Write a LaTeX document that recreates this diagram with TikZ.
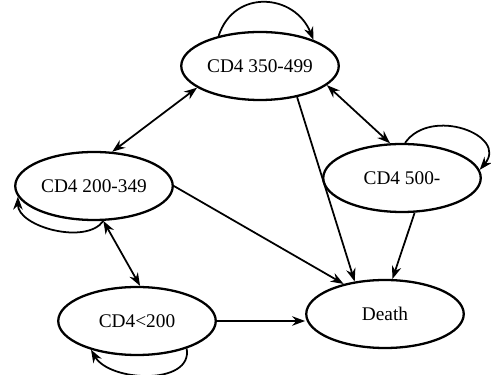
\documentclass[tikz,border=0pt]{standalone}
\usepackage{fontspec}
\setmainfont{Liberation Serif}
\usetikzlibrary{positioning,arrows.meta,shapes.geometric}

\begin{document}
\begin{tikzpicture}[
  font=\fontsize{11}{13}\selectfont,
  st/.style={ellipse, draw=black, line width=1.3pt, minimum width=3.15cm,
             minimum height=1.36cm, inner sep=0pt, fill=white},
  arr/.style={-{Stealth[length=2.6mm,width=1.9mm]}, line width=1pt},
  both/.style={{Stealth[length=2.6mm,width=1.9mm]}-{Stealth[length=2.6mm,width=1.9mm]}, line width=1pt}
]
\useasboundingbox (0,0) rectangle (9.82,7.48);

\node[st] (c350) at (5.20, 6.16) {CD4 350-499};
\node[st] (c200) at (1.88, 3.76) {CD4 200-349};
\node[st] (c500) at (8.04, 3.92) {CD4 500-};
\node[st] (low)  at (2.74, 1.06) {CD4<200};
\node[st] (dth)  at (7.70, 1.20) {Death};

% transitions between states
\draw[both] (c200.62)  -- (c350.199);
\draw[both] (c350.344) -- (c500.109);
\draw[both] (c200.285) -- (low.85);

% to death
\draw[arr] (c350.320) -- (dth.133);
\draw[arr] (c500.290) -- (dth.78);
\draw[arr] (c200.0)   -- (dth.144);
\draw[arr] (low.0)    -- (low.0 -| dth.west);

% stay in state
\draw[arr] (c350.144) to[out=72, in=112, distance=1cm] (c350.26);
\draw[arr] (c500.85)  to[out=55, in=50, distance=0.9cm] (c500.6);
\draw[arr] (c200.285) to[out=235, in=270, distance=0.6cm] (c200.188);
\draw[arr] (low.331)  to[out=280, in=300, distance=0.75cm] (low.212);
\end{tikzpicture}
\end{document}
